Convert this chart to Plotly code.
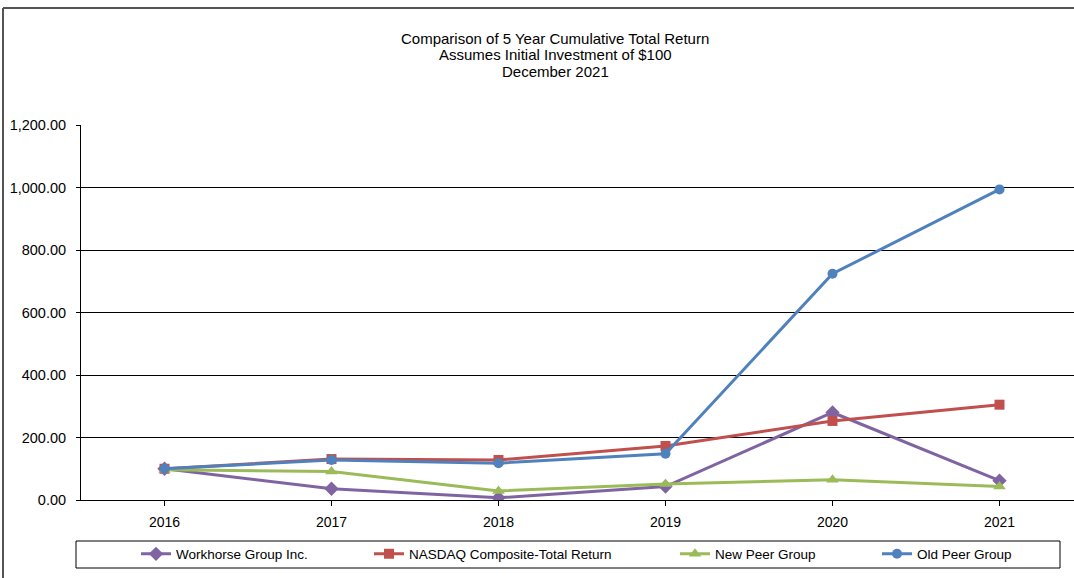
import plotly.graph_objects as go

years = [2016, 2017, 2018, 2019, 2020, 2021]
workhorse = [100.0, 36.0, 7.0, 43.0, 280.0, 62.0]
nasdaq = [100.0, 131.0, 128.0, 173.0, 253.0, 305.0]
new_peer = [97.0, 91.0, 29.0, 51.0, 65.0, 43.0]
old_peer = [100.0, 128.0, 118.0, 148.0, 724.0, 994.0]
y_ticks = [0, 200, 400, 600, 800, 1000, 1200]
y_tick_labels = ["0.00", "200.00", "400.00", "600.00", "800.00", "1,000.00", "1,200.00"]
title_lines = ["Comparison of 5 Year Cumulative Total Return",
               "Assumes Initial Investment of $100",
               "December 2021"]

series = [
    ("Workhorse Group Inc.", workhorse, "#8064A2", "diamond", 11, "legend", 176),
    ("NASDAQ Composite-Total Return", nasdaq, "#C0504D", "square", 10, "legend2", 409),
    ("New Peer Group", new_peer, "#9BBB59", "triangle-up", 11, "legend3", 715),
    ("Old Peer Group", old_peer, "#4F81BD", "circle", 10, "legend4", 917),
]

W, H = 1074, 578
L, R, T, B = 81, 0, 125, 78
pw = W - L - R
ph = H - T - B


def px_x(p):
    return (p - L) / pw


def px_y(p):
    return (H - B - p) / ph


fig = go.Figure()
for name, vals, col, sym, sz, leg, _ in series:
    fig.add_trace(go.Scatter(
        x=years, y=vals, name=name, mode="lines+markers",
        line=dict(color=col, width=3),
        marker=dict(symbol=sym, size=sz, color=col),
        legend=leg,
    ))

spacing = 167.0
x0 = 2015.5
x1 = x0 + pw / spacing

shapes = [
    dict(type="line", xref="paper", yref="paper", x0=px_x(3), x1=px_x(3), y0=px_y(8), y1=px_y(580),
         line=dict(color="#555555", width=2)),
    dict(type="line", xref="paper", yref="paper", x0=px_x(3), x1=px_x(1080), y0=px_y(8), y1=px_y(8),
         line=dict(color="#555555", width=2)),
    dict(type="rect", xref="paper", yref="paper", x0=px_x(76), x1=px_x(1060), y0=px_y(541), y1=px_y(568),
         line=dict(color="#000000", width=1)),
]

annotations = []
for i, txt in enumerate(title_lines):
    annotations.append(dict(
        text=txt, xref="paper", yref="paper", x=px_x(555), y=px_y(38 + i * 16.5),
        xanchor="center", yanchor="middle", showarrow=False,
        font=dict(size=15, family="Liberation Sans, Arial, sans-serif", color="#000000"),
    ))

legend_common = dict(orientation="h", yanchor="middle", y=px_y(554), xanchor="left",
                     font=dict(size=13.5), itemwidth=30, bgcolor="rgba(0,0,0,0)")
legends = {}
for name, vals, col, sym, sz, leg, tx in series:
    legends[leg] = dict(legend_common, x=px_x(tx - 40))

fig.update_layout(
    width=W, height=H,
    margin=dict(l=L, r=R, t=T, b=B, pad=0),
    paper_bgcolor="white", plot_bgcolor="white",
    font=dict(family="Liberation Sans, Arial, sans-serif", color="#000000", size=13),
    xaxis=dict(
        range=[x0, x1], tickvals=years, ticktext=[str(y) for y in years],
        showgrid=False, zeroline=False, showline=True, linecolor="#000000", linewidth=1,
        ticks="outside", ticklen=5, tickcolor="#000000",
        tickfont=dict(size=14), ticklabelstandoff=4,
    ),
    yaxis=dict(
        range=[0, 1200], tickvals=y_ticks, ticktext=y_tick_labels,
        showgrid=True, gridcolor="#000000", gridwidth=1,
        zeroline=False, showline=True, linecolor="#000000", linewidth=1,
        ticks="outside", ticklen=4, tickcolor="#000000",
        tickfont=dict(size=14.5), ticklabelstandoff=7,
    ),
    showlegend=True,
    annotations=annotations,
    shapes=shapes,
    **legends,
)

fig.write_html("out.html")
